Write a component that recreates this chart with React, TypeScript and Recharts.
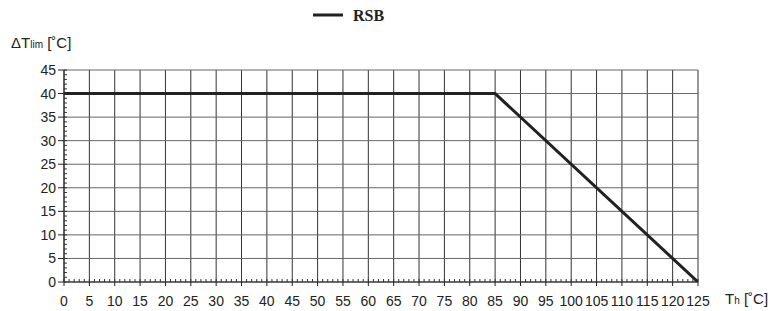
import React from 'react';
import { LineChart, Line, XAxis, YAxis, CartesianGrid } from 'recharts';

// break points of the RSB curve
const hotSideTemp = [0, 85, 125];
const maxDeltaT = [40, 40, 0];

const xTicks = [0, 5, 10, 15, 20, 25, 30, 35, 40, 45, 50, 55, 60, 65, 70, 75, 80, 85, 90, 95, 100, 105, 110, 115, 120, 125];
const yTicks = [0, 5, 10, 15, 20, 25, 30, 35, 40, 45];
const xMinorTicks = Array.from({ length: 126 }, (_, i) => i);
const yMinorTicks = Array.from({ length: 46 }, (_, i) => i);

const seriesName = 'RSB';

const data = hotSideTemp.map((t, i) => ({ th: t, rsb: maxDeltaT[i] }));

const W = 776;
const H = 311;
const tickFont = { fontFamily: 'Liberation Sans, Arial, sans-serif', fontSize: 14, fill: '#222' };
const noLabel = () => <g />;

export default function App() {
  return (
    <div style={{ position: 'absolute', left: 0, top: 0, width: W, height: H, background: '#fff' }}>
      <LineChart
        width={W}
        height={H}
        data={data}
        margin={{ top: 70, right: 78, bottom: 28, left: 63 }}
      >
        <CartesianGrid horizontal={false} stroke="#333" strokeWidth={1} />
        <CartesianGrid vertical={false} stroke="#666" strokeWidth={1} />
        <XAxis
          dataKey="th"
          type="number"
          domain={[0, 125]}
          ticks={xTicks}
          interval={0}
          height={1}
          tick={tickFont}
          tickSize={4}
          tickMargin={10}
          stroke="#222"
          allowDataOverflow
        />
        <XAxis
          xAxisId="minor"
          dataKey="th"
          type="number"
          domain={[0, 125]}
          ticks={xMinorTicks}
          interval={0}
          height={1}
          tick={noLabel}
          tickLine={{ stroke: '#333' }}
          tickSize={3}
          mirror
          axisLine={false}
          allowDataOverflow
        />
        <YAxis
          type="number"
          domain={[0, 45]}
          ticks={yTicks}
          interval={0}
          width={1}
          tick={tickFont}
          tickSize={6}
          tickMargin={2}
          stroke="#222"
          allowDataOverflow
        />
        <YAxis
          yAxisId="minor"
          type="number"
          domain={[0, 45]}
          ticks={yMinorTicks}
          interval={0}
          width={1}
          tick={noLabel}
          tickLine={{ stroke: '#333' }}
          tickSize={3}
          mirror
          axisLine={false}
          allowDataOverflow
        />
        <Line
          dataKey="rsb"
          name={seriesName}
          type="linear"
          stroke="#222"
          strokeWidth={3}
          dot={false}
          isAnimationActive={false}
        />
      </LineChart>
      <svg
        width={W}
        height={H}
        style={{ position: 'absolute', left: 0, top: 0, pointerEvents: 'none' }}
      >
        {/* legend */}
        <line x1={313} y1={15} x2={343} y2={15} stroke="#222" strokeWidth={3} />
        <text x={353} y={21} fontFamily="Liberation Serif, Times New Roman, serif" fontWeight="bold" fontSize={16} fill="#222">
          {seriesName}
        </text>
        {/* axis titles */}
        <text x={11} y={48} fontFamily="Liberation Sans, Arial, sans-serif" fontSize={15} fill="#222">
          ΔT<tspan fontSize={10}>lim</tspan> [˚C]
        </text>
        <text x={725} y={304} fontFamily="Liberation Sans, Arial, sans-serif" fontSize={15} fill="#222">
          T<tspan fontSize={10}>h</tspan> [˚C]
        </text>
      </svg>
    </div>
  );
}
